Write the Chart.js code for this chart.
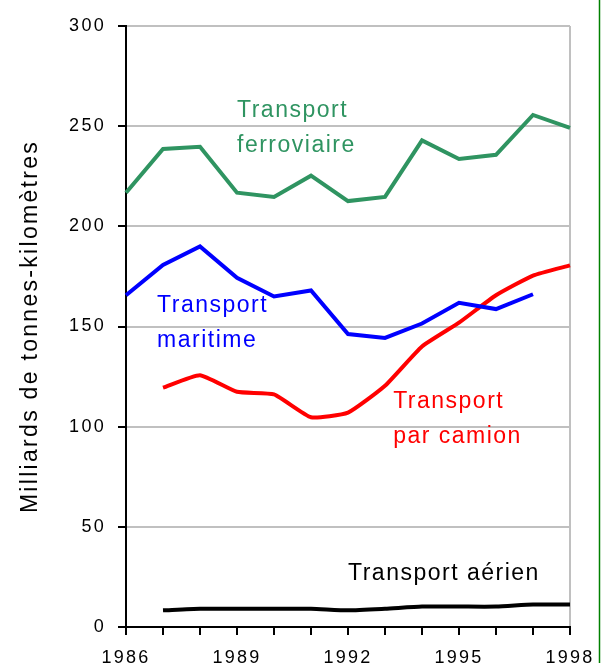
<!DOCTYPE html>
<html lang="fr">
<head>
    <meta charset="UTF-8">
    <title>Transport de marchandises</title>
    <style>
        html, body {
            margin: 0;
            padding: 0;
            background: #fff;
            overflow: hidden;
        }
        #wrap {
            width: 604px;
            height: 663px;
        }
    </style>
</head>
<body>
<div id="wrap"><canvas id="chart" width="604" height="663"></canvas></div>

<script src="https://cdn.jsdelivr.net/npm/chart.js"></script>
<script>
    // values (milliards de tonnes-km)
    const years = ['1986', '1987', '1988', '1989', '1990', '1991', '1992',
                   '1993', '1994', '1995', '1996', '1997', '1998'];
    const ferroviaire = [216.8, 238.6, 239.7, 216.8, 214.7, 225.3, 212.6, 214.7, 242.9, 233.6, 235.7, 255.6, 249.2];
    const maritime    = [165.6, 180.7, 190.0, 174.3, 165.0, 168.0, 146.2, 144.3, 151.5, 161.8, 158.7, 166.1, null];
    const camion      = [null, 119.5, 125.7, 117.4, 116.1, 104.7, 107.0, 120.4, 140.0, 151.9, 165.6, 175.4, 180.5];
    const aerien      = [null, 8.3, 9.1, 9.1, 9.1, 9.1, 8.3, 9.1, 10.2, 10.2, 10.2, 11.2, 11.2];
    const yTicks = [0, 50, 100, 150, 200, 250, 300];

    const GREEN = '#2f9461';
    const BLUE = '#0000ff';
    const RED = '#ff0000';
    const BLACK = '#000000';

    // series labels placed in data space (index on x, value on y)
    const notes = [
        { lines: ['Transport', 'ferroviaire'], at: [3.0, 254.6], color: GREEN },
        { lines: ['Transport', 'maritime'], at: [0.84, 157.2], color: BLUE },
        { lines: ['Transport', 'par camion'], at: [7.22, 109.3], color: RED },
        { lines: ['Transport aérien'], at: [6.0, 23.5], color: BLACK }
    ];

    const FONT = "'Liberation Sans', Arial, sans-serif";

    // Excel-like wide text
    const spacing = {
        id: 'spacing',
        beforeLayout(chart) { chart.ctx.letterSpacing = '2.3px'; },
        beforeDraw(chart) { chart.ctx.letterSpacing = '2.3px'; }
    };

    const labels = {
        id: 'labels',
        afterDatasetsDraw(chart) {
            const ctx = chart.ctx;
            const xs = chart.scales.x, ys = chart.scales.y;
            ctx.save();
            ctx.letterSpacing = '1.5px';
            ctx.font = '23px ' + FONT;
            ctx.textAlign = 'left';
            ctx.textBaseline = 'alphabetic';
            notes.forEach(n => {
                const x = xs.getPixelForValue(n.at[0]);
                const y = ys.getPixelForValue(n.at[1]);
                ctx.fillStyle = n.color;
                n.lines.forEach((t, i) => ctx.fillText(t, x, y + i * 35));
            });
            ctx.restore();
        },
        afterDraw(chart) {
            // thin green frame at the right edge
            const ctx = chart.ctx;
            ctx.save();
            ctx.strokeStyle = '#008000';
            ctx.lineWidth = 1.5;
            ctx.beginPath();
            ctx.moveTo(599.5, 0);
            ctx.lineTo(599.5, chart.height);
            ctx.stroke();
            ctx.restore();
        }
    };

    function line(data, color, tension) {
        return {
            data: data,
            borderColor: color,
            backgroundColor: color,
            borderWidth: 4,
            pointRadius: 0,
            tension: tension,
            fill: false
        };
    }

    new Chart(document.getElementById('chart').getContext('2d'), {
        type: 'line',
        data: {
            labels: years,
            datasets: [
                line(ferroviaire, GREEN, 0),
                line(maritime, BLUE, 0),
                line(camion, RED, 0.15),
                line(aerien, BLACK, 0.2)
            ]
        },
        options: {
            responsive: false,
            animation: false,
            devicePixelRatio: 1,
            layout: { padding: { top: 26, right: 34, bottom: 0, left: 0 } },
            plugins: {
                legend: { display: false },
                tooltip: { enabled: false }
            },
            scales: {
                x: {
                    offset: false,
                    afterFit: s => {
                        s.height = 36;
                        s.paddingLeft = 0;
                        s.paddingRight = 0;
                    },
                    grid: {
                        color: c => c.index === years.length - 1 ? '#c0c0c0' : 'rgba(0,0,0,0)',
                        lineWidth: 2,
                        tickColor: '#000',
                        tickWidth: 2,
                        tickLength: 8
                    },
                    border: { color: '#000', width: 2 },
                    ticks: {
                        autoSkip: false,
                        maxRotation: 0,
                        padding: 12,
                        color: '#000',
                        font: { family: FONT, size: 18 },
                        callback: (v, i) => i % 3 === 0 ? years[i] : ''
                    }
                },
                y: {
                    min: 0,
                    max: 300,
                    afterFit: s => { s.width = 126; },
                    afterBuildTicks: s => { s.ticks = yTicks.map(v => ({ value: v })); },
                    grid: {
                        color: '#c0c0c0',
                        lineWidth: 2,
                        tickColor: '#000',
                        tickWidth: 2,
                        tickLength: 8
                    },
                    border: { color: '#000', width: 2 },
                    ticks: {
                        padding: 12,
                        color: '#000',
                        font: { family: FONT, size: 18 }
                    },
                    title: {
                        display: true,
                        text: 'Milliards de tonnes-kilomètres',
                        color: '#000',
                        font: { family: FONT, size: 23 },
                        padding: { top: 17, bottom: 0 }
                    }
                }
            }
        },
        plugins: [spacing, labels]
    });
</script>
</body>
</html>
